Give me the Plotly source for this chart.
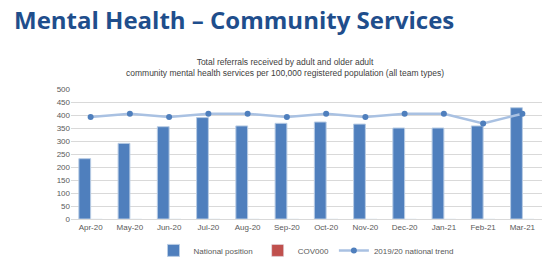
import plotly.graph_objects as go

months = ["Apr-20", "May-20", "Jun-20", "Jul-20", "Aug-20", "Sep-20",
          "Oct-20", "Nov-20", "Dec-20", "Jan-21", "Feb-21", "Mar-21"]
national_position = [232, 291, 355, 390, 358, 368, 373, 365, 350, 350, 358, 428]
cov000 = [0] * 12
national_trend = [392, 405, 392, 405, 405, 392, 405, 392, 405, 405, 367, 405]

fig = go.Figure()
fig.add_trace(go.Bar(x=months, y=national_position, name="National position",
                     marker=dict(color="#4f7fbd", line=dict(color="#b8cce4", width=1))))
fig.add_trace(go.Bar(x=months, y=cov000, name="COV000",
                     marker=dict(color="#c0504d")))
fig.add_trace(go.Scatter(x=months, y=national_trend, name="2019/20 national trend",
                         mode="lines+markers",
                         line=dict(color="#a9c1e2", width=2.5),
                         marker=dict(color="#4f7fbd", size=6)))

fig.update_layout(
    width=549, height=263,
    margin=dict(l=71, r=7, t=89, b=44, autoexpand=False),
    paper_bgcolor="white", plot_bgcolor="white",
    barmode="group", bargap=0.4, bargroupgap=0,
    font=dict(family="Liberation Sans, Arial", size=8, color="#595959"),
    showlegend=True,
    legend=dict(orientation="h", x=0.5, xanchor="center", y=-0.13, yanchor="top",
                itemwidth=30,
                font=dict(size=8, color="#595959"), traceorder="normal"),
    xaxis=dict(range=[-0.5, len(months) - 0.5], showgrid=False, showline=True,
               linecolor="#d9d9d9", ticks="",
               tickfont=dict(size=8, color="#595959")),
    yaxis=dict(range=[0, 500], dtick=50, showgrid=True, gridcolor="#d9d9d9",
               zeroline=False, showline=False, ticks="",
               tickfont=dict(size=8, color="#595959")),
)

fig.add_annotation(text="<b>Mental Health – Community Services</b>",
                   xref="paper", yref="paper", x=-59/471, y=1 + (89 - 19) / 130,
                   xanchor="left", yanchor="middle", showarrow=False,
                   font=dict(family="Open Sans", size=24, color="#1f4e8c"))
fig.add_annotation(text="Total referrals received by adult and older adult<br>community mental health services per 100,000 registered population (all team types)",
                   xref="paper", yref="paper", x=(285 - 71) / 471, y=1 + (89 - 67) / 130,
                   xanchor="center", yanchor="middle", showarrow=False,
                   font=dict(family="Liberation Sans, Arial", size=8.5, color="#404040"))

fig.write_html("out.html")
